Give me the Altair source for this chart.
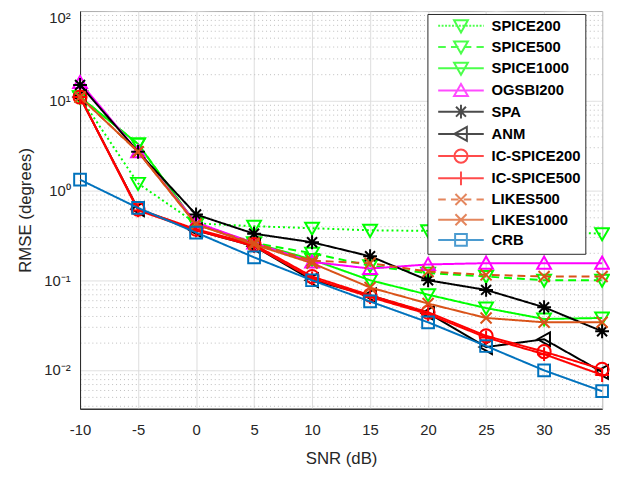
import altair as alt
import pandas as pd

# ---------------- data ----------------
snr = [-10, -5, 0, 5, 10, 15, 20, 25, 30, 35]

series_names = ["SPICE200", "SPICE500", "SPICE1000", "OGSBI200", "SPA", "ANM",
                "IC-SPICE200", "IC-SPICE500", "LIKES500", "LIKES1000", "CRB"]

spice200 = [11.0, 1.2, 0.43, 0.40, 0.38, 0.36, 0.355, 0.35, 0.35, 0.33]
spice500 = [11.0, 3.3, 0.42, 0.26, 0.20, 0.145, 0.12, 0.11, 0.10, 0.10]
spice1000 = [11.0, 3.3, 0.42, 0.26, 0.17, 0.10, 0.069, 0.049, 0.037, 0.038]
ogsbi200 = [16.0, 2.7, 0.44, 0.26, 0.16, 0.135, 0.15, 0.155, 0.155, 0.155]
spa = [15.0, 2.7, 0.54, 0.33, 0.265, 0.185, 0.10, 0.078, 0.050, 0.027]
anm = [11.0, 0.62, 0.36, 0.24, 0.10, 0.068, 0.043, 0.018, 0.022, 0.0095]
ic_spice200 = [11.0, 0.62, 0.37, 0.25, 0.11, 0.068, 0.044, 0.024, 0.016, 0.0102]
ic_spice500 = [11.0, 0.60, 0.36, 0.24, 0.105, 0.065, 0.042, 0.023, 0.015, 0.0088]
likes500 = [11.0, 2.7, 0.42, 0.26, 0.165, 0.155, 0.125, 0.115, 0.11, 0.11]
likes1000 = [11.0, 2.7, 0.42, 0.25, 0.155, 0.083, 0.055, 0.038, 0.034, 0.034]
crb = [1.32, 0.64, 0.34, 0.18, 0.10, 0.058, 0.034, 0.0185, 0.0099, 0.0058]

series_values = [spice200, spice500, spice1000, ogsbi200, spa, anm,
                 ic_spice200, ic_spice500, likes500, likes1000, crb]

x_ticks = [-10, -5, 0, 5, 10, 15, 20, 25, 30, 35]
y_domain = [0.0037, 100]

# ---------------- styles ----------------
colors = ["#00ff00", "#00ff00", "#00ff00", "#ff00ff", "#000000", "#000000",
          "#ff0000", "#ff0000", "#d95319", "#d95319", "#0072bd"]
line_styles = ["dot", "dash", "solid", "solid", "solid", "solid",
               "solid", "solid", "dash", "solid", "solid"]
dash_arrays = {"dot": [2, 3], "dash": [8, 5], "solid": [1, 0]}

marker_paths = {
    "tri_down": "M-1,-0.8L1,-0.8L0,0.95Z",
    "tri_up": "M-1,0.8L1,0.8L0,-0.95Z",
    "tri_left": "M-0.95,0L0.85,-1L0.85,1Z",
    "star": "M-1,0L1,0M0,-1L0,1M-0.72,-0.72L0.72,0.72M-0.72,0.72L0.72,-0.72",
    "circle": "M0.95,0A0.95,0.95,0,1,1,-0.95,0A0.95,0.95,0,1,1,0.95,0Z",
    "plus": "M-1,0L1,0M0,-1L0,1",
    "cross": "M-0.8,-0.8L0.8,0.8M-0.8,0.8L0.8,-0.8",
    "square": "M-0.85,-0.85L0.85,-0.85L0.85,0.85L-0.85,0.85Z",
}
markers = ["tri_down", "tri_down", "tri_down", "tri_up", "star", "tri_left",
           "circle", "plus", "cross", "cross", "square"]


def legend_line(style, half=3.3):
    if style == "solid":
        return "M%.2f,0L%.2f,0" % (-half, half)
    if style == "dash":
        seg, gap = 1.1, 0.75
    else:
        seg, gap = 0.28, 0.22
    parts = []
    x = -half
    while x < half:
        x2 = min(x + seg, half)
        parts.append("M%.2f,0L%.2f,0" % (x, x2))
        x = x2 + gap
    return "".join(parts)


legend_paths = [legend_line(ls) + marker_paths[m] for ls, m in zip(line_styles, markers)]

rows = []
for name, vals in zip(series_names, series_values):
    for s, v in zip(snr, vals):
        rows.append({"series": name, "snr": s, "rmse": v})
df = pd.DataFrame(rows)

# y ticks (major + minor)
y_ticks = []
for e in range(-3, 2):
    for m in range(1, 10):
        v = round(m * 10 ** e, 6)
        if y_domain[0] <= v <= 100:
            y_ticks.append(v)
y_ticks.append(100)

decade_test = "indexof([100,10,1,0.1,0.01], datum.value) >= 0"
label_expr = ("datum.value==100?'10²':datum.value==10?'10¹':datum.value==1?'10⁰':"
              "datum.value==0.1?'10⁻¹':datum.value==0.01?'10⁻²':''")

FONT = "Arial"
AX = "#262626"

x_enc = alt.X("snr:Q", scale=alt.Scale(domain=[-10, 35], nice=False, zero=False),
              axis=alt.Axis(values=x_ticks, title="SNR (dB)", grid=True,
                            gridColor="#dcdcdc", gridWidth=1, ticks=False,
                            labelExpr="datum.value + ''",
                            labelPadding=14, labelFontSize=15, labelColor=AX,
                            labelFont=FONT, titleFont=FONT, titleFontSize=17,
                            titleFontWeight="normal", titleColor=AX, titlePadding=14,
                            domainColor=AX, labelFlush=False))
y_enc = alt.Y("rmse:Q", scale=alt.Scale(type="log", domain=y_domain, nice=False),
              axis=alt.Axis(values=y_ticks, title="RMSE (degrees)", grid=True,
                            gridColor={"condition": {"test": decade_test, "value": "#dcdcdc"},
                                       "value": "#bdbdbd"},
                            gridDash={"condition": {"test": decade_test, "value": [1, 0]},
                                      "value": [1, 3]},
                            labelOffset={"condition": {"test": "datum.value==100", "value": 7},
                                         "value": 0},
                            gridWidth=1, ticks=False, labelExpr=label_expr,
                            labelOverlap=False, labelPadding=10, labelFontSize=15,
                            labelColor=AX, labelFont=FONT, titleFont=FONT,
                            titleFontSize=17, titleFontWeight="normal", titleColor=AX,
                            titlePadding=10, domainColor=AX, labelFlush=False))

layers = []
for i, name in enumerate(series_names):
    sub = alt.Chart(df).transform_filter(alt.datum.series == name)
    line = sub.mark_line(color=colors[i], strokeWidth=2,
                         strokeDash=dash_arrays[line_styles[i]]).encode(
        x=x_enc if i == 0 else alt.X("snr:Q"),
        y=y_enc if i == 0 else alt.Y("rmse:Q"))
    pts = sub.mark_point(shape=marker_paths[markers[i]], color=colors[i], filled=False,
                         size=196, strokeWidth=2, opacity=1).encode(
        x="snr:Q", y="rmse:Q")
    layers += [line, pts]

leg = alt.Legend(title=None, orient="none", legendX=352, legendY=3,
                 labelFont=FONT, labelFontSize=15, labelFontWeight="bold",
                 labelColor="#000000", symbolSize=196, symbolStrokeWidth=2,
                 symbolFillColor="transparent", labelOffset=23, symbolOffset=22,
                 padding=4, rowPadding=0.5, fillColor="white", strokeColor=AX,
                 labelLimit=200)

legend_layer = alt.Chart(df).transform_filter("false").mark_point(
    filled=False, size=196, strokeWidth=2).encode(
    x="snr:Q", y="rmse:Q",
    color=alt.Color("series:N", scale=alt.Scale(domain=series_names, range=colors), legend=leg),
    shape=alt.Shape("series:N", scale=alt.Scale(domain=series_names, range=legend_paths),
                    legend=leg),
)
layers.append(legend_layer)

chart = alt.layer(*layers).properties(
    width=529, height=403,
    autosize=alt.AutoSizeParams(type="none"),
    padding={"left": 73, "top": 0, "right": 8, "bottom": 58},
    background="white",
).configure_view(stroke=AX, strokeWidth=1)

chart.save("out.html", embed_options={"renderer": "svg", "actions": False})
